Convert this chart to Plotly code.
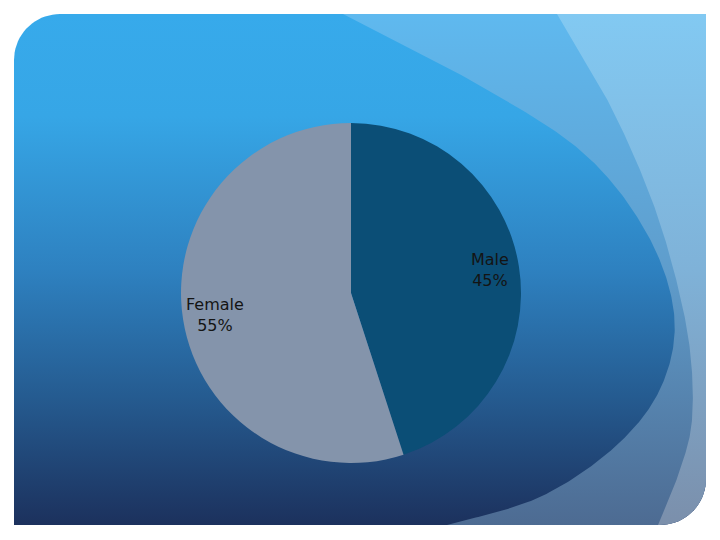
import numpy as np
import plotly.graph_objects as go

# ---- data ----
labels = ["Male", "Female"]
values = [45, 55]
slice_colors = ["#0b4e76", "#8494ab"]

# ---- figure geometry (page body has an 8px margin; coordinates are screen pixels) ----
OFF = 8
FW, FH = 704, 524
L, T, R, B = 14, 14, 706, 525
RAD = 46


def catmull(points, n=40):
    p = np.array(points, dtype=float)
    p = np.vstack([p[0], p, p[-1]])
    out = []
    for i in range(1, len(p) - 2):
        p0, p1, p2, p3 = p[i - 1], p[i], p[i + 1], p[i + 2]
        for t in np.linspace(0, 1, n, endpoint=False):
            t2, t3 = t * t, t * t * t
            out.append(0.5 * ((2 * p1) + (-p0 + p2) * t + (2 * p0 - 5 * p1 + 4 * p2 - p3) * t2
                              + (-p0 + 3 * p1 - 3 * p2 + p3) * t3))
    out.append(p[-2])
    return np.array(out)


def arc(cx, cy, r, a0, a1, n=20):
    a = np.radians(np.linspace(a0, a1, n))
    return np.column_stack([cx + r * np.cos(a), cy + r * np.sin(a)])


# rounded slide panel (top-left and bottom-right corners rounded)
rect = np.vstack([
    arc(L + RAD, T + RAD, RAD, 180, 270),
    [[R, T]],
    arc(R - RAD, B - RAD, RAD, 0, 90),
    [[L, B]],
])

curve1 = catmull([(343, 14), (470, 80), (580, 150), (645, 230), (674, 313),
                  (662, 385), (617, 445), (540, 497), (447, 525)])
curve2 = catmull([(557, 14), (610, 105), (650, 195), (675, 275), (690, 350),
                  (692, 420), (680, 470), (658, 525)])

corner = arc(R - RAD, B - RAD, RAD, 90, 0)
layerB = np.vstack([curve1, corner, [[R, T]]])
layerC = np.vstack([curve2, corner, [[R, T]]])

fig = go.Figure()


def add_layer(poly, stops):
    fig.add_trace(go.Scatter(
        x=poly[:, 0], y=poly[:, 1], mode="lines", fill="toself",
        line=dict(width=0, color="rgba(0,0,0,0)"),
        fillgradient=dict(type="vertical", start=T, stop=B, colorscale=stops),
        hoverinfo="skip", showlegend=False,
    ))


add_layer(rect, [[0, "#37aaeb"], [0.2, "#36a6e6"], [0.5, "#2e81c0"],
                 [0.75, "#255b90"], [1, "#1c315d"]])
add_layer(layerB, [[0, "#5fb9ef"], [0.5, "#5f9dcc"], [1, "#4d6b92"]])
add_layer(layerC, [[0, "#82c9f2"], [0.5, "#7fb2d8"], [1, "#7b8fab"]])

# ---- pie ----
cx, cy, pr = 351, 293, 170
fig.add_trace(go.Pie(
    labels=labels, values=values, sort=False, direction="clockwise", rotation=0,
    marker=dict(colors=slice_colors, line=dict(width=0)),
    textinfo="none", hoverinfo="label+percent", showlegend=False,
    domain=dict(x=[(cx - pr - OFF) / FW, (cx + pr - OFF) / FW],
                y=[(OFF + FH - (cy + pr)) / FH, (OFF + FH - (cy - pr)) / FH]),
))

total = sum(values)
label_pos = {"Male": (490, 270), "Female": (215, 315)}
for lab, v in zip(labels, values):
    x, y = label_pos[lab]
    fig.add_annotation(x=x, y=y, xref="x", yref="y",
                       text=f"{lab}<br>{round(100 * v / total)}%", showarrow=False,
                       font=dict(family="DejaVu Sans", size=16, color="#141414"),
                       align="center")

fig.update_layout(
    width=FW, height=FH, margin=dict(l=0, r=0, t=0, b=0),
    paper_bgcolor="white", plot_bgcolor="white",
    xaxis=dict(range=[OFF, OFF + FW], visible=False, fixedrange=True),
    yaxis=dict(range=[OFF + FH, OFF], visible=False, fixedrange=True),
)

fig.write_html("out.html")
